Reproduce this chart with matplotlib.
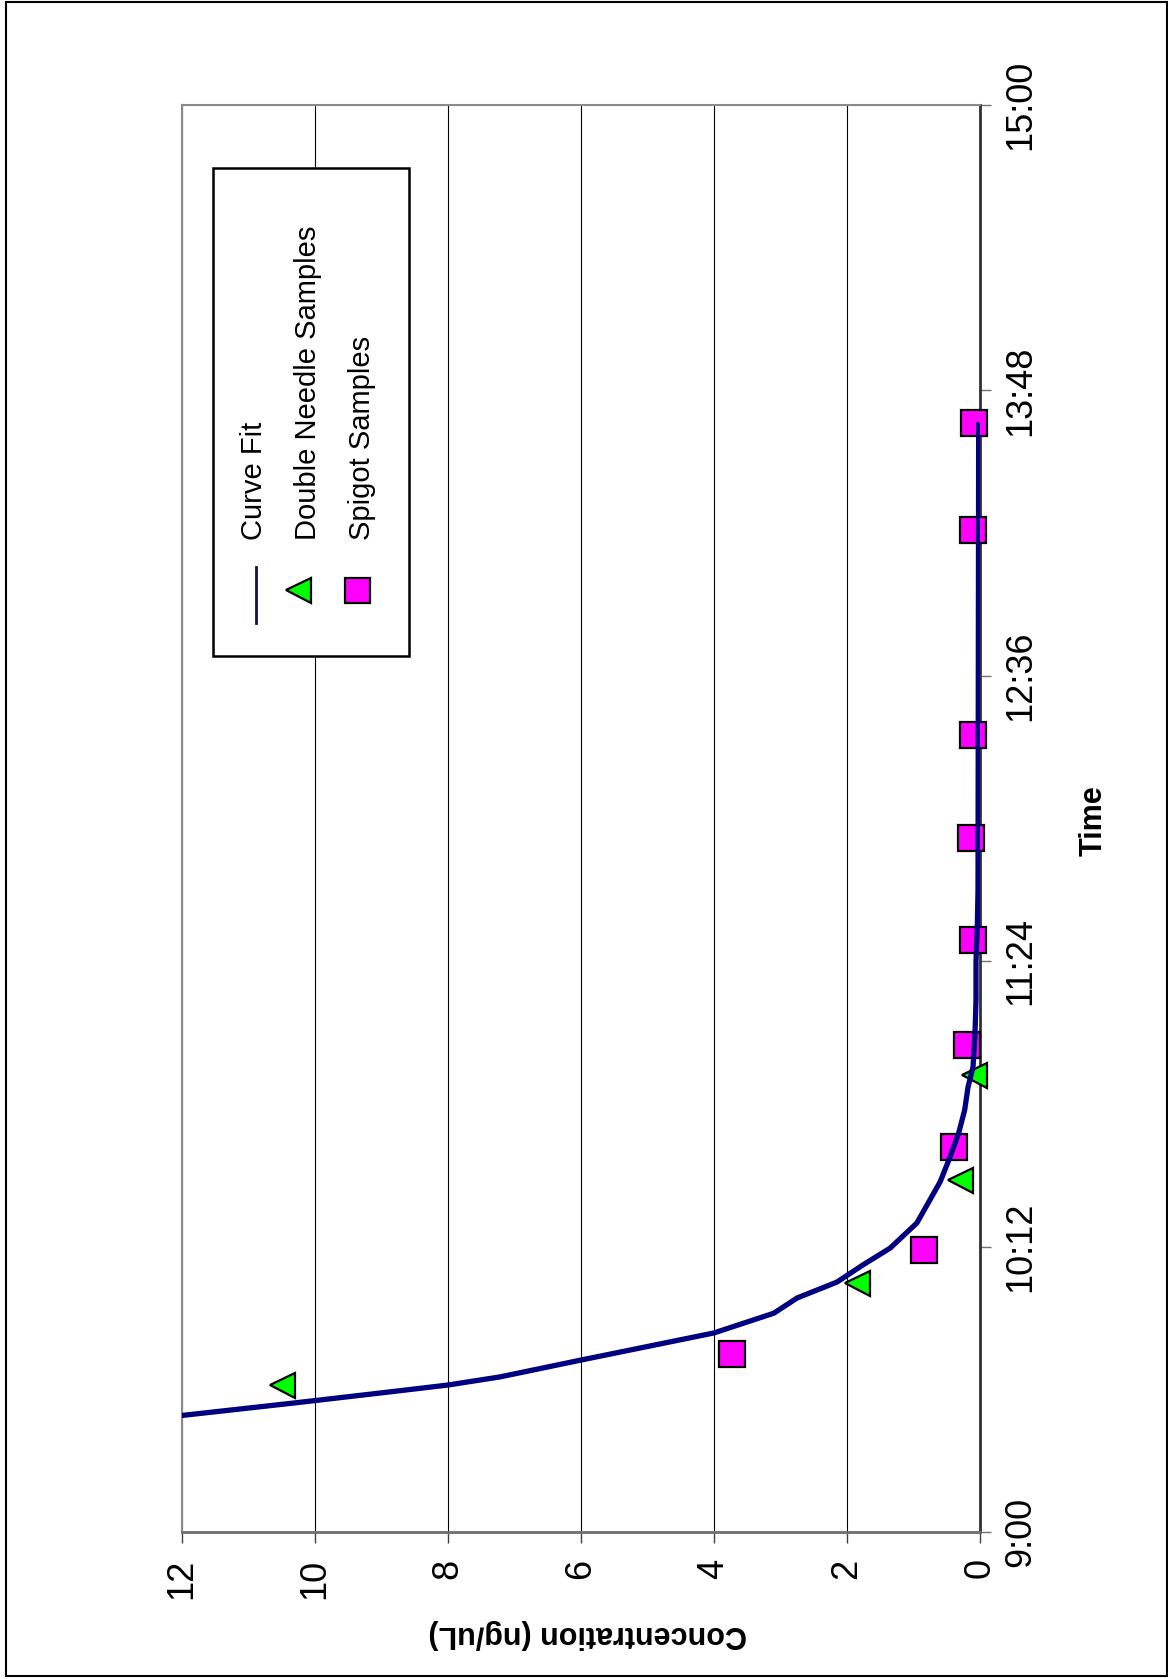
import matplotlib
matplotlib.use("Agg")
import matplotlib.pyplot as plt
from matplotlib.patches import Rectangle
from matplotlib.lines import Line2D

plt.rcParams['font.family'] = ['Liberation Sans', 'DejaVu Sans']

W, H = 1168, 1679

# time as decimal hours of the day, concentration in ng/uL
curve_time = [9.49, 9.542, 9.585, 9.618, 9.652, 9.723, 9.78, 9.837, 9.92, 9.984,
              10.051, 10.123, 10.194, 10.299, 10.472, 10.577, 10.678, 10.775,
              10.871, 10.955, 11.098, 11.237, 11.40, 11.55, 11.70, 13.655]
curve_conc = [12.0, 10.33, 9.0, 8.0, 7.22, 6.0, 5.0, 4.0, 3.1, 2.75,
              2.15, 1.76, 1.35, 0.95, 0.60, 0.45, 0.32, 0.23,
              0.18, 0.105, 0.075, 0.06, 0.06, 0.04, 0.03, 0.02]

needle_time = [9.618, 10.047, 10.48, 10.922]
needle_conc = [10.5, 1.85, 0.30, 0.09]

spigot_time = [9.749, 10.186, 10.619, 11.048, 11.49, 11.918, 12.352, 13.214, 13.664]
spigot_conc = [3.73, 0.84, 0.39, 0.20, 0.10, 0.14, 0.10, 0.10, 0.09]

conc_ticks = [0, 2, 4, 6, 8, 10, 12]
time_ticks = [9.0, 10.2, 11.4, 12.6, 13.8, 15.0]
time_labels = ['9:00', '10:12', '11:24', '12:36', '13:48', '15:00']

legend_labels = ['Curve Fit', 'Double Needle Samples', 'Spigot Samples']


def px(x, y):
    return x / W, 1 - y / H


fig = plt.figure(figsize=(W / 100, H / 100), dpi=100)
fig.patch.set_facecolor('white')

# outer chart border
x0, y0 = px(6, 1676)
fig.add_artist(Rectangle((x0, y0), (1167 - 6) / W, (1676 - 2) / H, transform=fig.transFigure,
                         fill=False, edgecolor='black', linewidth=1.5))

# the chart is drawn turned 90 degrees: concentration runs right-to-left, time bottom-to-top
ax = fig.add_axes([182 / W, 1 - 1532 / H, (980 - 182) / W, (1532 - 105) / H])

ax.plot(curve_conc, curve_time, color='#000080', linewidth=3.8, zorder=4,
        solid_joinstyle='round')
ax.plot(needle_conc, needle_time, linestyle='none', marker='<', markersize=18,
        markerfacecolor='#00FF00', markeredgecolor='black', markeredgewidth=1.6,
        zorder=3, clip_on=False)
ax.plot(spigot_conc, spigot_time, linestyle='none', marker='s', markersize=18.5,
        markerfacecolor='#FF00FF', markeredgecolor='black', markeredgewidth=1.6,
        zorder=3, clip_on=False)

ax.set_xlim(12, 0)
ax.set_ylim(9, 15)

ax.set_xticks(conc_ticks)
ax.set_xticklabels([str(v) for v in conc_ticks])
ax.set_yticks(time_ticks)
ax.set_yticklabels(time_labels)

ax.grid(axis='x', color='black', linewidth=0.8)
ax.grid(axis='y', visible=False)
ax.set_axisbelow(True)

ax.spines['left'].set_color('#8a8a8a')
ax.spines['left'].set_linewidth(1.5)
ax.spines['top'].set_color('#8a8a8a')
ax.spines['top'].set_linewidth(1.5)
ax.spines['bottom'].set_color('#6e6e6e')
ax.spines['bottom'].set_linewidth(2)
ax.spines['right'].set_color('#303030')
ax.spines['right'].set_linewidth(2)

ax.tick_params(axis='x', direction='out', length=8, width=1, color='#404040',
               labelsize=26, pad=11, labelrotation=90)
ax.tick_params(axis='y', direction='out', length=8, width=1, color='#707070',
               labelsize=26, pad=9, labelrotation=90,
               left=False, labelleft=False, right=True, labelright=True)
for lab in ax.get_yticklabels():
    lab.set_verticalalignment('center')
    lab.set_horizontalalignment('left')

# axis titles
fig.text(*px(588, 1634), 'Concentration (ng/uL)', rotation=180, fontsize=22,
         fontweight='bold', ha='center', va='center')
fig.text(*px(1094, 821), 'Time', rotation=90, fontsize=22,
         fontweight='bold', ha='center', va='center')

# legend, built by hand because its texts are turned as well
lx0, ly0 = px(213, 656)
fig.add_artist(Rectangle((lx0, ly0), (409 - 213) / W, (656 - 168) / H, transform=fig.transFigure,
                         facecolor='white', edgecolor='black', linewidth=1.8, zorder=5))
fig.add_artist(Line2D([256 / W, 256 / W], [1 - 623 / H, 1 - 567 / H], transform=fig.transFigure,
                      color='#101050', linewidth=2, zorder=6))
fig.add_artist(Line2D([298 / W], [1 - 590 / H], transform=fig.transFigure, marker='<',
                      markersize=18, markerfacecolor='#00FF00', markeredgecolor='black',
                      markeredgewidth=1.6, zorder=6))
fig.add_artist(Line2D([357 / W], [1 - 590 / H], transform=fig.transFigure, marker='s',
                      markersize=18, markerfacecolor='#FF00FF', markeredgecolor='black',
                      markeredgewidth=1.6, zorder=6))
for xb, label in zip([262, 316, 370], legend_labels):
    fig.text(*px(xb, 540), label, rotation=90, rotation_mode='anchor', fontsize=21,
             ha='left', va='baseline', zorder=7)

fig.savefig('out.png', dpi=100)
